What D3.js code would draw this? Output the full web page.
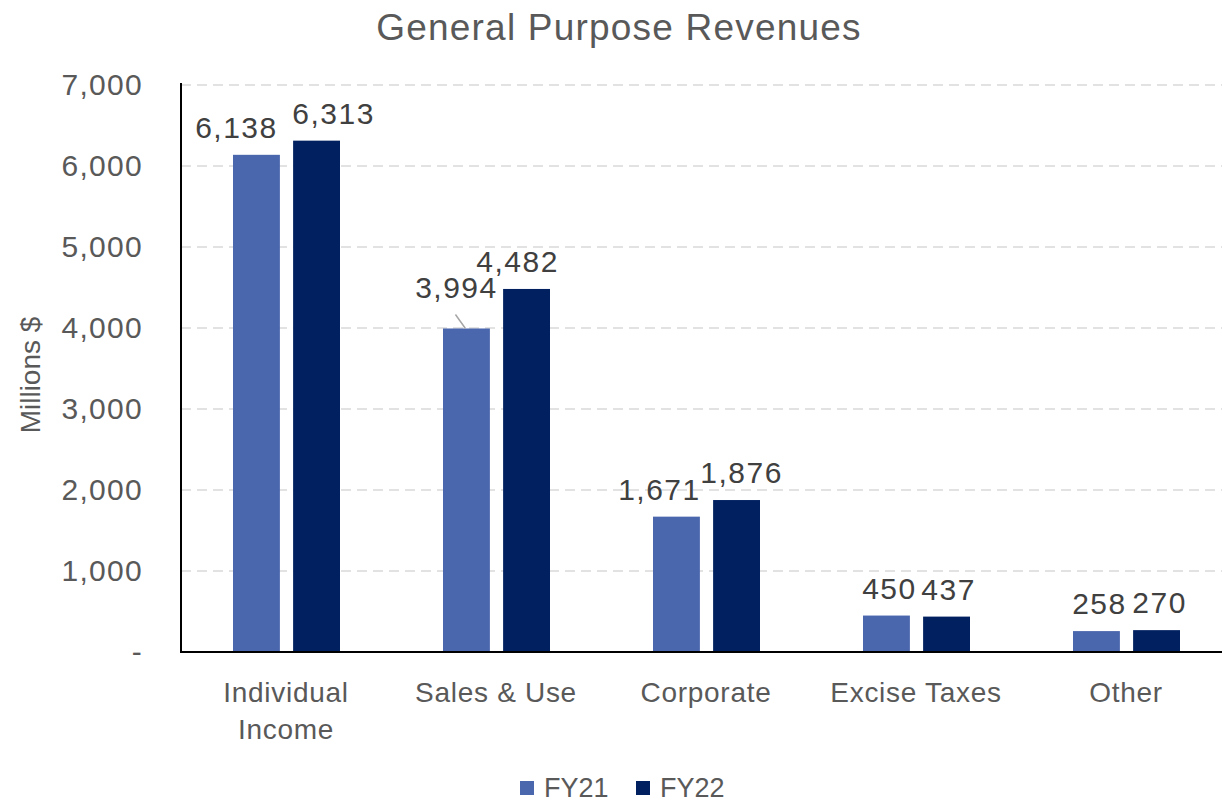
<!DOCTYPE html>
<html><head><meta charset="utf-8">
<script src="https://cdn.jsdelivr.net/npm/d3@7"></script>
<style>body{margin:0;background:#fff}svg{display:block}text{font-family:"Liberation Sans",Arial,sans-serif}</style>
</head><body>
<svg id="c" width="1222" height="802"></svg>
<script>
const categories = [["Individual","Income"],["Sales & Use"],["Corporate"],["Excise Taxes"],["Other"]];
const seriesNames = ["FY21","FY22"];
const fy21 = [6138, 3994, 1671, 450, 258];
const fy22 = [6313, 4482, 1876, 437, 270];
const yTicks = [0,1000,2000,3000,4000,5000,6000,7000];
const colors = ["#4a66ac","#002060"];
// manual label nudges (dx, dy) like the original
const labelNudge = [
  [[-20,0],[17,0]],
  [[-10,-13],[-9,0]],
  [[-17,0],[5,0]],
  [[3,0],[2,0]],
  [[3,0],[3,0]]
];

const svg = d3.select("#c");
const m = {left:181, right:1231, top:85, bottom:652};
const y = d3.scaleLinear().domain([0,7000]).range([m.bottom, m.top]);
const x0 = d3.scaleBand().domain(d3.range(categories.length)).range([m.left, m.right]).paddingInner(0).paddingOuter(0);
const x1 = d3.scaleBand().domain(seriesNames).range([52, 159]).paddingInner(0.22);

// gridlines
svg.append("g").selectAll("line").data(yTicks.filter(d=>d>0)).join("line")
  .attr("x1", m.left).attr("x2", 1222).attr("y1", d=>y(d)).attr("y2", d=>y(d))
  .attr("stroke","#d9d9d9").attr("stroke-width",1.5).attr("stroke-dasharray","10,6");

// y axis labels
const yAxis = d3.axisLeft(y).tickValues(yTicks).tickSize(0).tickPadding(38)
  .tickFormat(d => d===0 ? "-" : d3.format(",")(d));
const ya = svg.append("g").attr("transform",`translate(${m.left},0)`).call(yAxis);
ya.select(".domain").remove();
ya.selectAll("text").attr("font-size",30).attr("letter-spacing",1.3).attr("fill","#595959").attr("font-family","Liberation Sans, Arial, sans-serif");

// bars
const series = [fy21, fy22];
const groups = svg.append("g").selectAll("g").data(categories.map((c,i)=>i)).join("g")
  .attr("transform", i=>`translate(${x0(i)},0)`);
groups.selectAll("rect").data(i=>seriesNames.map((s,k)=>({s,k,v:series[k][i],i}))).join("rect")
  .attr("x", d=>x1(d.s)).attr("width", x1.bandwidth())
  .attr("y", d=>y(d.v)).attr("height", d=>y(0)-y(d.v))
  .attr("fill", d=>colors[d.k]);

// labels
groups.selectAll("text.lbl").data(i=>seriesNames.map((s,k)=>({s,k,v:series[k][i],i}))).join("text")
  .attr("class","lbl")
  .attr("x", d=>x1(d.s)+x1.bandwidth()/2 + labelNudge[d.i][d.k][0])
  .attr("y", d=>y(d.v) - 17 + labelNudge[d.i][d.k][1])
  .attr("text-anchor","middle").attr("font-size",30).attr("letter-spacing",1.5).attr("fill","#404040")
  .text(d=>d3.format(",")(d.v));

// leader line for 3,994
{
  const i=1, k=0, v=fy21[1];
  const cx = x0(i)+x1(seriesNames[k])+x1.bandwidth()/2;
  svg.append("line").attr("x1", cx-11).attr("y1", y(v)-14).attr("x2", cx-1).attr("y2", y(v))
    .attr("stroke","#a6a6a6").attr("stroke-width",1.5);
}

// axes lines
svg.append("line").attr("x1",m.left).attr("x2",m.left).attr("y1",m.top-2).attr("y2",m.bottom+1).attr("stroke","#000").attr("stroke-width",2);
svg.append("line").attr("x1",m.left-1).attr("x2",1222).attr("y1",m.bottom).attr("y2",m.bottom).attr("stroke","#000").attr("stroke-width",2);

// category labels
const cl = svg.append("g").selectAll("text").data(categories).join("text")
  .attr("x",(d,i)=>x0(i)+x0.bandwidth()/2).attr("y",702)
  .attr("text-anchor","middle").attr("font-size",28).attr("letter-spacing",0.7).attr("fill","#595959");
cl.selectAll("tspan").data(d=>d).join("tspan")
  .attr("x",function(){return d3.select(this.parentNode).attr("x");})
  .attr("dy",(d,j)=>j===0?0:37).text(d=>d);

// title
svg.append("text").attr("x",619).attr("y",40).attr("text-anchor","middle")
  .attr("font-size",37).attr("letter-spacing",1.2).attr("fill","#595959").text("General Purpose Revenues");

// y title
svg.append("text").attr("transform","translate(40,375) rotate(-90)").attr("text-anchor","middle")
  .attr("font-size",28).attr("fill","#595959").text("Millions $");

// legend
const lg = svg.append("g").selectAll("g").data(seriesNames).join("g")
  .attr("transform",(d,i)=>`translate(${520+i*116},0)`);
lg.append("rect").attr("x",0).attr("y",781).attr("width",14).attr("height",14).attr("fill",(d,i)=>colors[i]);
lg.append("text").attr("x",24).attr("y",797).attr("font-size",27).attr("fill","#595959").text(d=>d);
</script>
</body></html>
